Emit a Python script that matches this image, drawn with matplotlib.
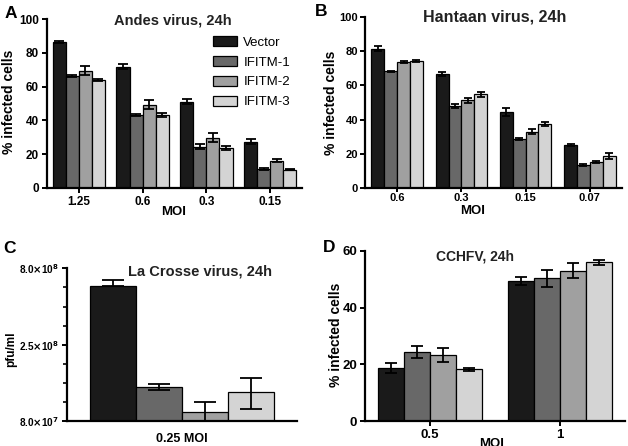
import numpy as np
import matplotlib
matplotlib.use('Agg')
import matplotlib.pyplot as plt
from matplotlib.ticker import FixedLocator

plt.rcParams['font.family'] = ['Liberation Sans', 'DejaVu Sans']
plt.rcParams['font.weight'] = 'bold'
plt.rcParams['axes.linewidth'] = 1.6
plt.rcParams['xtick.major.width'] = 1.4
plt.rcParams['ytick.major.width'] = 1.4
plt.rcParams['ytick.minor.width'] = 1.2

series = ['Vector', 'IFITM-1', 'IFITM-2', 'IFITM-3']
colors = ['#1a1a1a', '#686868', '#a0a0a0', '#d4d4d4']

# Panel A - Andes virus
andes_moi = ['1.25', '0.6', '0.3', '0.15']
andes_vals = [[86.5, 71.7, 51.0, 27.3],
              [66.2, 43.1, 24.3, 11.4],
              [69.5, 49.3, 29.8, 16.1],
              [63.9, 43.1, 23.8, 10.9]]
andes_err = [[0.6, 1.5, 1.5, 1.5],
             [0.8, 0.6, 1.5, 0.5],
             [2.5, 2.5, 2.5, 0.8],
             [0.5, 1.0, 1.2, 0.5]]

# Panel B - Hantaan virus
hantaan_moi = ['0.6', '0.3', '0.15', '0.07']
hantaan_vals = [[81.5, 66.9, 44.4, 25.2],
                [68.2, 47.9, 28.5, 13.5],
                [73.9, 51.4, 32.8, 15.2],
                [74.4, 54.8, 37.4, 18.7]]
hantaan_err = [[1.5, 1.2, 2.5, 0.5],
               [0.5, 1.0, 0.5, 0.5],
               [0.6, 1.5, 1.5, 0.5],
               [0.6, 1.5, 1.0, 1.5]]

# Panel C - La Crosse virus (pfu/ml)
lacrosse_vals = [6.1e8, 1.33e8, 9.2e7, 1.24e8]
lacrosse_lo = [6.1e8, 1.27e8, 8.0e7, 9.6e7]
lacrosse_hi = [6.7e8, 1.40e8, 1.06e8, 1.52e8]
lacrosse_ticks = [8.0e7, 2.5e8, 8.0e8]
lacrosse_ticklabels = [r'8.0$\times$10$^{7}$', r'2.5$\times$10$^{8}$', r'8.0$\times$10$^{8}$']

# Panel D - CCHFV
cchfv_moi = ['0.5', '1']
cchfv_vals = [[18.8, 49.5],
              [24.4, 50.3],
              [23.3, 53.1],
              [18.3, 56.0]]
cchfv_err = [[1.8, 1.5],
             [2.0, 3.0],
             [2.5, 2.5],
             [0.5, 1.0]]

W, H = 628, 446
fig = plt.figure(figsize=(W / 100, H / 100), dpi=100)


def px_axes(left, top, right, bottom):
    return fig.add_axes([left / W, 1 - bottom / H, (right - left) / W, (bottom - top) / H])


def style(ax, size=8.5, pad=2.5):
    ax.spines['top'].set_visible(False)
    ax.spines['right'].set_visible(False)
    ax.tick_params(axis='both', labelsize=size, length=3.5, pad=pad)
    for lab in ax.get_xticklabels() + ax.get_yticklabels():
        lab.set_fontweight('bold')


def grouped(ax, vals, err, labels, width, capsize):
    n = len(labels)
    x = np.arange(n)
    for i in range(len(series)):
        pos = x + (i - 1.5) * width
        ax.bar(pos, vals[i], width, color=colors[i], edgecolor='black', linewidth=0.9,
               label=series[i], zorder=2)
        ax.errorbar(pos, vals[i], yerr=err[i], fmt='none', ecolor='black',
                    elinewidth=1.3, capsize=capsize, capthick=1.3, zorder=3)
    ax.set_xticks(x)
    ax.set_xticklabels(labels)
    ax.set_xlim(-0.5, n - 0.5)


# A
axA = px_axes(47, 19, 302, 188)
grouped(axA, andes_vals, andes_err, andes_moi, 0.205, 3.5)
axA.set_ylim(0, 100)
axA.set_yticks([0, 20, 40, 60, 80, 100])
style(axA)
axA.text(0.494, 0.99, 'Andes virus, 24h', transform=axA.transAxes, ha='center', va='center',
         fontsize=10.5, fontweight='bold', color='#222222')
axA.legend(loc='upper left', bbox_to_anchor=(213 / W, 1 - 36 / H), bbox_transform=fig.transFigure,
           frameon=False, prop={'weight': 'normal', 'size': 9.5},
           handlelength=1.8, handleheight=0.8, handletextpad=0.5, labelspacing=0.55,
           borderpad=0, borderaxespad=0)

# B
axB = px_axes(365, 17, 622, 188)
grouped(axB, hantaan_vals, hantaan_err, hantaan_moi, 0.2, 3.0)
axB.set_ylim(0, 100)
axB.set_yticks([0, 20, 40, 60, 80, 100])
style(axB, size=8, pad=1.5)
axB.tick_params(axis='x', pad=0.5, length=3)
axB.text(0.506, 1.0, 'Hantaan virus, 24h', transform=axB.transAxes, ha='center', va='center',
         fontsize=11.5, fontweight='bold', color='#222222')

# C
axC = px_axes(67, 268, 297, 421)
xc = np.arange(len(series))
axC.bar(xc, lacrosse_vals, 1.0, color=colors, edgecolor='black', linewidth=0.9, zorder=2)
yerr = [np.array(lacrosse_vals) - np.array(lacrosse_lo), np.array(lacrosse_hi) - np.array(lacrosse_vals)]
axC.errorbar(xc, lacrosse_vals, yerr=yerr, fmt='none', ecolor='black', elinewidth=1.3,
             capsize=8, capthick=1.3, zorder=3)
axC.set_yscale('log')
axC.set_ylim(lacrosse_ticks[0], lacrosse_ticks[-1])
axC.set_xlim(-1.0, 4.0)
axC.set_yticks(lacrosse_ticks)
axC.set_yticklabels(lacrosse_ticklabels)
lt = np.log10(lacrosse_ticks)
minors = []
for a, b in zip(lt[:-1], lt[1:]):
    minors += list(10 ** np.linspace(a, b, 5)[1:-1])
axC.yaxis.set_minor_locator(FixedLocator(minors))
axC.yaxis.set_minor_formatter(plt.NullFormatter())
axC.set_xticks([1.5])
axC.set_xticklabels(['0.25 MOI'])
style(axC)
axC.tick_params(axis='y', labelsize=7.2)
axC.tick_params(axis='y', which='minor', length=3)
axC.tick_params(axis='x', length=0, pad=9, labelsize=9)
axC.text(0.578, 0.976, 'La Crosse virus, 24h', transform=axC.transAxes, ha='center', va='center',
         fontsize=10.5, fontweight='bold', color='#222222')

# D
axD = px_axes(365, 251, 625, 421)
grouped(axD, cchfv_vals, cchfv_err, cchfv_moi, 0.2, 4.5)
axD.set_ylim(0, 60)
axD.set_yticks([0, 20, 40, 60])
style(axD, 9.5, pad=2)
axD.text(0.423, 0.966, 'CCHFV, 24h', transform=axD.transAxes, ha='center', va='center',
         fontsize=10, fontweight='bold', color='#222222')

# axis labels and panel letters
def ftext(x, y, s, **kw):
    fig.text(x / W, 1 - y / H, s, ha='center', va='center', fontweight='bold', **kw)

ftext(9, 102, '% infected cells', fontsize=10, rotation=90)
ftext(331, 103, '% infected cells', fontsize=10, rotation=90)
ftext(11, 349, 'pfu/ml', fontsize=8.5, rotation=90)
ftext(336, 335, '% infected cells', fontsize=10, rotation=90)
ftext(174, 212, 'MOI', fontsize=9.5)
ftext(473, 211, 'MOI', fontsize=9.5)
ftext(492, 444, 'MOI', fontsize=9.5)
ftext(11, 13, 'A', fontsize=12.5)
ftext(321, 11.5, 'B', fontsize=12.5)
ftext(9, 248, 'C', fontsize=12.5)
ftext(329, 247.5, 'D', fontsize=12.5)

fig.savefig('out.png', dpi=100)
